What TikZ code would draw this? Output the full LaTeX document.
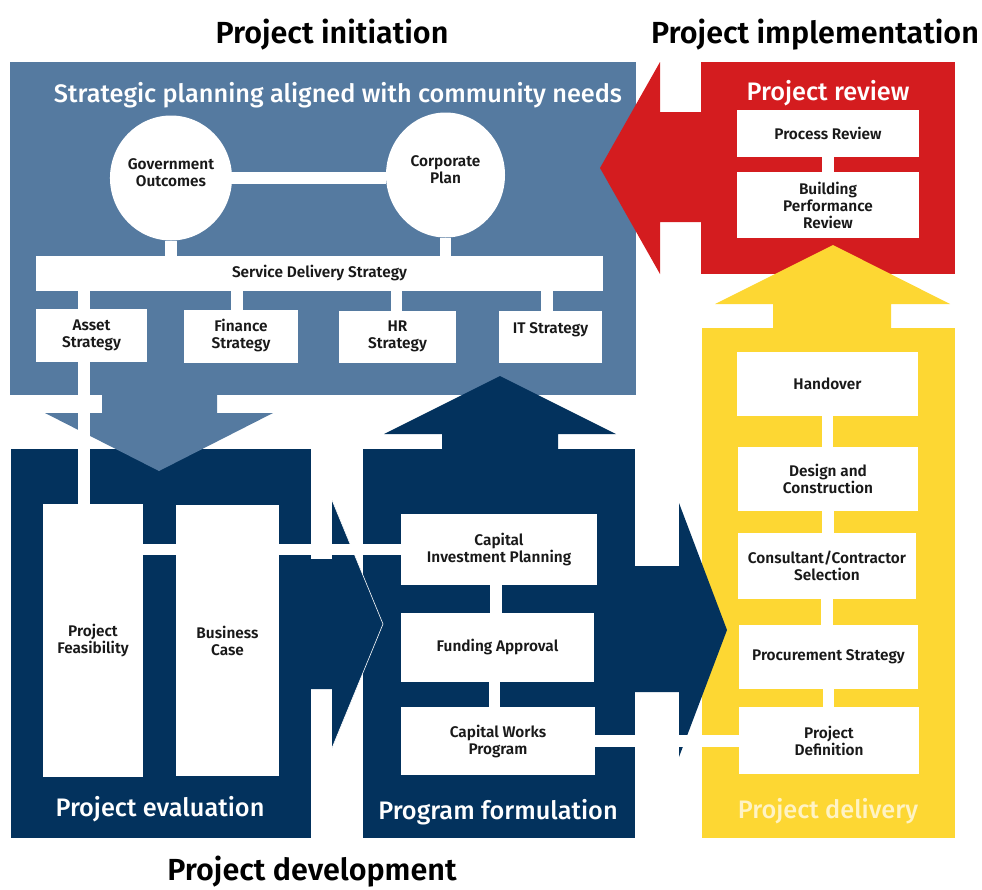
\documentclass[tikz,border=0pt]{standalone}
\usepackage{fontspec}
\setmainfont{Fira Sans}[BoldFont={Fira Sans SemiBold}]
\newfontfamily\medio{Fira Sans Medium}
\usetikzlibrary{positioning,shapes.geometric}

\definecolor{bluastro}{HTML}{557AA0}
\definecolor{blunotte}{HTML}{03325D}
\definecolor{rosso}{HTML}{D41C1F}
\definecolor{giallo}{HTML}{FDD733}
\definecolor{gialloch}{HTML}{FFF3C4}

\tikzset{
  box/.style={fill=white, inner sep=0pt, align=center, text=black!90,
    font=\bfseries\fontsize{15.4}{17}\selectfont},
  wh/.style 2 args={minimum width=#1pt, minimum height=#2pt},
  bolla/.style={box, ellipse},
  link/.style={draw=white, line width=11.5pt},
  titolo/.style={font=\bfseries\fontsize{30.5}{34}\selectfont},
  etichetta/.style={text=white, font=\medio\fontsize{25.3}{29}\selectfont},
}

\begin{document}
\begin{tikzpicture}[x=1pt, y=-1pt]
  \useasboundingbox (0,0) rectangle (982,889);

  % Pannelli delle fasi
  \fill[bluastro] (10,62) rectangle (636,395);
  \fill[rosso] (701,62) rectangle (955,274);
  \fill[blunotte] (11,449) rectangle (311,838);
  \fill[blunotte] (363,449) rectangle (635,838);
  \fill[giallo] (702,328) rectangle (955,838);

  % Frecce fra i pannelli
  \fill[bluastro] (102,390) -- (217,390) -- (217,413) -- (273,413) -- (159,471) -- (45,413) -- (102,413) -- cycle;
  \fill[blunotte] (442,455) -- (442,434) -- (384,434) -- (500,376) -- (616,434) -- (558,434) -- (558,455) -- cycle;
  \fill[rosso] (706,112) -- (660,112) -- (660,62) -- (600,168) -- (660,274) -- (660,222) -- (706,222) -- cycle;
  \fill[giallo] (773,333) -- (773,304) -- (715,304) -- (833,245) -- (950,304) -- (891,304) -- (891,333) -- cycle;
  \fill[blunotte] (306,559) -- (332,559) -- (332,500) -- (383,624) -- (332,748) -- (332,689) -- (306,689) -- cycle;
  \draw[white, line width=0.6pt] (332,500) -- (383,624) -- (332,748);
  \fill[blunotte] (630,566) -- (679,566) -- (679,503) -- (727,630) -- (679,757) -- (679,692) -- (630,692) -- cycle;

  % Pianificazione strategica
  \node[bolla, wh={118}{125}] (go) at (171,178) {Government\\Outcomes\\[-7pt]\mbox{}};
  \node[bolla, wh={119}{125}] (cp) at (445.5,175) {Corporate\\Plan\\[-7pt]\mbox{}};
  \node[box, wh={567}{35}] (sds) at (319.5,273.5) {Service Delivery Strategy};
  \node[box, wh={111}{53}] (as) at (91.5,335.5) {\mbox{}\\[-7pt]Asset\\Strategy};
  \node[box, wh={114}{53}] (fs) at (241,336.5) {\mbox{}\\[-7pt]Finance\\Strategy};
  \node[box, wh={117}{52}] (hr) at (397.5,337) {\mbox{}\\[-7pt]HR\\Strategy};
  \node[box, wh={103}{52}] (it) at (550.5,337) {\mbox{}\\[-7pt]IT Strategy\\\mbox{}};

  % Valutazione e programma
  \node[box, wh={100}{273}] (pf) at (93,640.5) {Project\\Feasibility};
  \node[box, wh={103}{271}] (bc) at (227.5,640.5) {Business\\Case};
  \node[box, wh={196}{71}] (cip) at (499,549.5) {Capital\\Investment Planning};
  \node[box, wh={193}{69}] (fa) at (497.5,647.5) {Funding Approval};
  \node[box, wh={194}{68}] (cwp) at (498,741) {Capital Works\\Program};

  % Revisione e consegna
  \node[box, wh={182}{47}] (pr) at (828,133.5) {Process Review};
  \node[box, wh={182}{66}] (bpr) at (828,205) {Building\\Performance\\Review};
  \node[box, wh={181}{64}] (ho) at (827.5,384) {Handover};
  \node[box, wh={180}{64}] (dc) at (828,479) {Design and\\Construction};
  \node[box, wh={178}{66}] (ccs) at (827,566) {Consultant/Contractor\\Selection};
  \node[box, wh={179}{64}] (ps) at (828.5,657) {Procurement Strategy};
  \node[box, wh={180}{67}] (pd) at (829,740.5) {Project\\Definition};

  % Collegamenti bianchi
  \draw[link] (go.east) -- (go.east -| cp.west);
  \draw[link] (go.south) -- (go.south |- sds.north);
  \draw[link] (cp.south) -- (cp.south |- sds.north);
  \draw[link] ([xshift=-7.5pt]as.north) -- ([xshift=-7.5pt]as.north |- sds.south);
  \draw[link] ([xshift=-7.5pt]as.south) -- ([xshift=-7.5pt]as.south |- pf.north);
  \draw[link] ([xshift=-4pt]fs.north) -- ([xshift=-4pt]fs.north |- sds.south);
  \draw[link] ([xshift=-1pt]hr.north) -- ([xshift=-1pt]hr.north |- sds.south);
  \draw[link] ([xshift=-3.5pt]it.north) -- ([xshift=-3.5pt]it.north |- sds.south);
  \draw[link] (pf.east |- cip.west) -- (bc.west |- cip.west);
  \draw[link] (bc.east |- cip.west) -- (cip.west);
  \draw[link] ([xshift=-3pt]cip.south) -- ([xshift=-3pt]cip.south |- fa.north);
  \draw[link] ([xshift=-3pt]fa.south) -- ([xshift=-3pt]fa.south |- cwp.north);
  \draw[link] (cwp.east) -- (cwp.east -| pd.west);
  \draw[link] (pr.south) -- (pr.south |- bpr.north);
  \foreach \a/\b in {ho/dc, dc/ccs, ccs/ps, ps/pd}
    \draw[link] (\a.south) -- (\a.south |- \b.north);

  % Titoli ed etichette
  \node[titolo] (ini) at (332,34.5) {Project initiation};
  \node[titolo] (impl) at (815,34.5) {Project implementation};
  \node[titolo] (svil) at (312,871.5) {Project development};
  \node[etichetta] (lpian) at (338,95) {Strategic planning aligned with community needs};
  \node[etichetta] (lrev) at (828,93) {Project review};
  \node[etichetta] (lval) at (160,809) {Project evaluation};
  \node[etichetta] (lform) at (498,812) {Program formulation};
  \node[etichetta, text=gialloch] (lcons) at (828,811) {Project delivery};
\end{tikzpicture}
\end{document}
